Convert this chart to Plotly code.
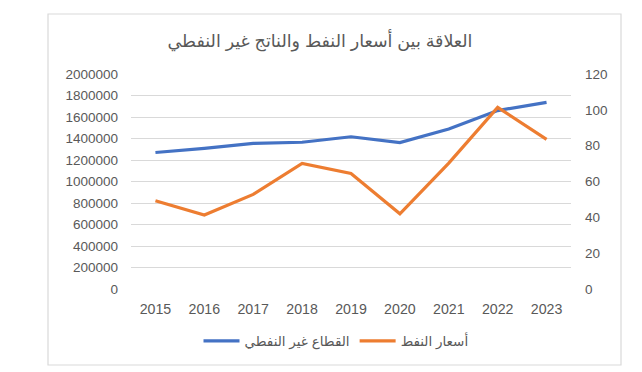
import plotly.graph_objects as go

years = ["2015", "2016", "2017", "2018", "2019", "2020", "2021", "2022", "2023"]
non_oil = [1270000, 1308000, 1354000, 1365000, 1416000, 1362000, 1488000, 1660000, 1736000]
oil_price = [49.3, 41.3, 52.8, 70.1, 64.5, 42.0, 70.3, 101.4, 83.5]

title_text = "العلاقة بين أسعار النفط والناتج غير النفطي"
name_non_oil = "القطاع غير النفطي"
name_oil = "أسعار النفط"

left_ticks = [0, 200000, 400000, 600000, 800000, 1000000, 1200000, 1400000, 1600000, 1800000, 2000000]
right_ticks = [0, 20, 40, 60, 80, 100, 120]

FONT = "Arial, Liberation Sans, DejaVu Sans, sans-serif"
GRAY = "#595959"

# page body has an 8px default margin; target pixel coords are shifted by it
OFF = 8
W, H = 642 - OFF, 372 - OFF
L, R, T, B = 131 - OFF, 571 - OFF, 74 - OFF, 289 - OFF
pw, ph = R - L, B - T

def px_x(v):
    return (v - OFF - L) / pw

def px_y(v):
    return (B - (v - OFF)) / ph

fig = go.Figure()
fig.add_trace(go.Scatter(x=years, y=non_oil, name=name_non_oil, mode="lines",
                         line=dict(color="#4472C4", width=3.2), yaxis="y"))
fig.add_trace(go.Scatter(x=years, y=oil_price, name=name_oil, mode="lines",
                         line=dict(color="#ED7D31", width=3.2), yaxis="y2"))

fig.update_layout(
    width=W, height=H,
    margin=dict(l=L, r=W - R, t=T, b=H - B),
    paper_bgcolor="white", plot_bgcolor="white",
    font=dict(family=FONT, size=13.5, color=GRAY),
    showlegend=True,
    title=dict(text=title_text, xref="paper", x=px_x(320), xanchor="center",
               yref="container", y=1 - (41 - OFF) / H, yanchor="middle",
               font=dict(family=FONT, size=17.5, color=GRAY)),
    xaxis=dict(type="category", range=[-0.5, len(years) - 0.5], showgrid=False,
               zeroline=False, showline=False, ticks="",
               tickfont=dict(size=14.2, color=GRAY), ticklabelstandoff=10),
    yaxis=dict(range=[0, 2000000], tickvals=left_ticks, ticktext=[str(v) for v in left_ticks],
               showgrid=True, gridcolor="#D9D9D9", gridwidth=1, zeroline=False, showline=False,
               ticks="", tickfont=dict(size=13.5, color=GRAY), ticklabelstandoff=12),
    yaxis2=dict(range=[0, 120], tickvals=right_ticks, overlaying="y", side="right",
                showgrid=False, zeroline=False, showline=False, ticks="",
                tickfont=dict(size=13.5, color=GRAY), ticklabelstandoff=13),
    legend=dict(orientation="h", x=px_x(336), xanchor="center", y=px_y(341), yanchor="middle",
                font=dict(size=13.5, color=GRAY), bgcolor="rgba(0,0,0,0)", itemwidth=36),
    shapes=[dict(type="rect", xref="paper", yref="paper",
                 x0=px_x(48), x1=px_x(621), y0=px_y(365), y1=px_y(14),
                 line=dict(color="#D9D9D9", width=1.2), fillcolor="rgba(0,0,0,0)", layer="above")],
)

fig.write_html("out.html")
